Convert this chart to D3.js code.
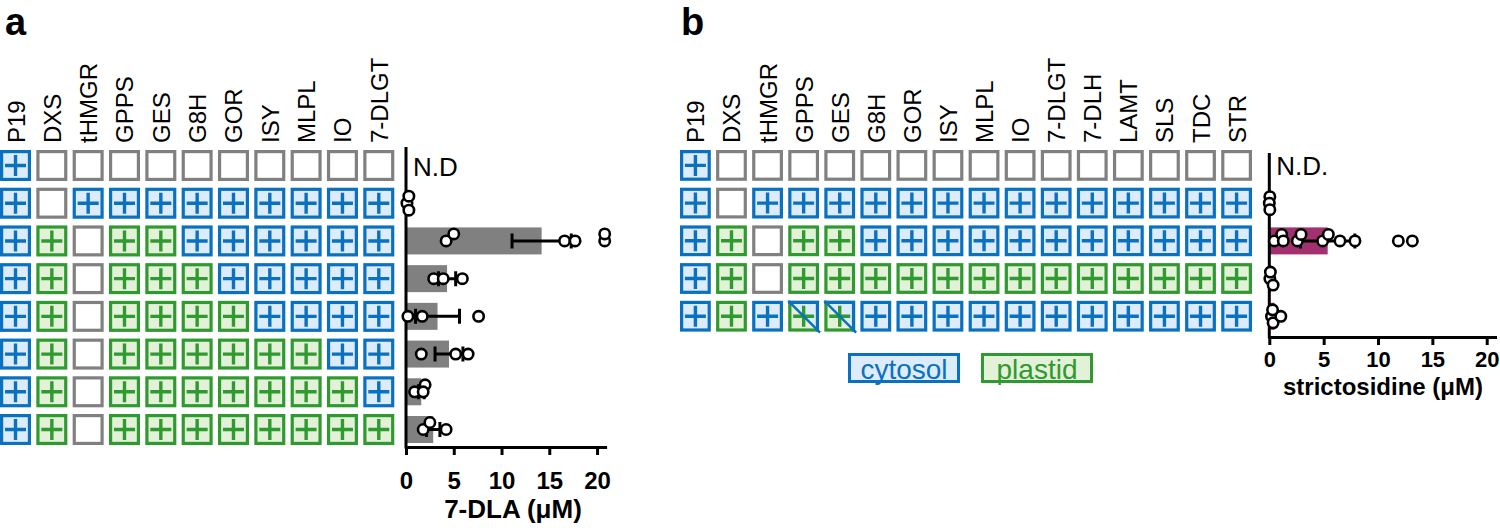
<!DOCTYPE html>
<html><head><meta charset="utf-8">
<script src="https://cdn.jsdelivr.net/npm/d3@7"></script>
<style>
body{margin:0;background:#fff}
svg{display:block}
text{font-family:"Liberation Sans",Arial,Helvetica,sans-serif}
</style>
</head><body>
<svg id="chart" width="1500" height="528"></svg>
<script>
// ---------- DATA ----------
const genesA = ["P19","DXS","tHMGR","GPPS","GES","G8H","GOR","ISY","MLPL","IO","7-DLGT"];
// c = cytosol, p = plastid, n = not present
const matrixA = [
  ["c","n","n","n","n","n","n","n","n","n","n"],
  ["c","n","c","c","c","c","c","c","c","c","c"],
  ["c","p","n","p","p","c","c","c","c","c","c"],
  ["c","p","n","p","p","p","c","c","c","c","c"],
  ["c","p","n","p","p","p","p","c","c","c","c"],
  ["c","p","n","p","p","p","p","p","p","c","c"],
  ["c","p","n","p","p","p","p","p","p","p","c"],
  ["c","p","n","p","p","p","p","p","p","p","p"]
];
const pointsA = [
  [],
  [0.1, 0.3, 0.3],
  [4.2, 5.0, 16.6, 17.7, 20.8, 20.8],
  [2.9, 3.9, 5.9],
  [0.2, 1.7, 7.6],
  [1.6, 5.2, 6.5],
  [0.9, 2.0, 1.8],
  [1.8, 2.5, 4.2]
];
const meansA = [null, 0.2, 14.2, 4.3, 3.3, 4.5, 1.6, 2.85];
const errA   = [null, 0, 3.1, 0.9, 2.3, 1.46, 0.3, 0.7];
const ndA = [true, false, false, false, false, false, false, false];

const genesB = ["P19","DXS","tHMGR","GPPS","GES","G8H","GOR","ISY","MLPL","IO","7-DLGT","7-DLH","LAMT","SLS","TDC","STR"];
// x = split cytosol/plastid (crossed)
const matrixB = [
  ["c","n","n","n","n","n","n","n","n","n","n","n","n","n","n","n"],
  ["c","n","c","c","c","c","c","c","c","c","c","c","c","c","c","c"],
  ["c","p","n","p","p","c","c","c","c","c","c","c","c","c","c","c"],
  ["c","p","n","p","p","p","p","p","p","p","p","p","p","p","p","p"],
  ["c","p","c","x","x","c","c","c","c","c","c","c","c","c","c","c"]
];
const pointsB = [
  [],
  [0.05, 0.0, 0.05],
  [0.46, 1.14, 1.29, 2.58, 2.92, 4.91, 5.43, 6.5, 7.88, 11.87, 13.16],
  [0.05, 0.35, 0.1],
  [0.2, 0.35, 1.06, 0.3]
];
const meansB = [null, 0.03, 5.37, 0.17, 0.48];
const errB   = [null, 0, 2.5, 0, 0];
const ndB = [true, false, false, false, false];

const xTicks = [0, 5, 10, 15, 20];
const legendItems = [{label:"cytosol", type:"c"}, {label:"plastid", type:"p"}];

// ---------- STYLE ----------
const COL = {
  c: {stroke:"#0a70c0", fill:"#ddecfb"},
  p: {stroke:"#2f9a2f", fill:"#e3f1d8"},
  n: {stroke:"#808080", fill:"#ffffff"}
};
const svg = d3.select("#chart");

function drawBox(g, x, y, s, type) {
  const sw = 3.2;
  if (type === "x") {
    g.append("rect").attr("x", x+sw/2).attr("y", y+sw/2).attr("width", s-sw).attr("height", s-sw)
      .attr("fill", COL.p.fill).attr("stroke", COL.p.stroke).attr("stroke-width", sw);
    g.append("path").attr("d", `M${x+sw/2},${y+sw/2}L${x+s-sw/2},${y+sw/2}L${x+s-sw/2},${y+s-sw/2}Z`)
      .attr("fill", COL.c.fill);
    g.append("path").attr("d", `M${x},${y+sw/2}L${x+s-sw/2},${y+sw/2}L${x+s-sw/2},${y+s}`)
      .attr("fill", "none").attr("stroke", COL.c.stroke).attr("stroke-width", sw);
    drawPlus(g, x, y, s, COL.p.stroke);
    g.append("line").attr("x1", x).attr("y1", y).attr("x2", x+s+1).attr("y2", y+s+1)
      .attr("stroke", COL.c.stroke).attr("stroke-width", 2.4);
    return;
  }
  const c = COL[type];
  g.append("rect").attr("x", x+sw/2).attr("y", y+sw/2).attr("width", s-sw).attr("height", s-sw)
    .attr("fill", c.fill).attr("stroke", c.stroke).attr("stroke-width", sw);
  if (type !== "n") drawPlus(g, x, y, s, c.stroke);
}
function drawPlus(g, x, y, s, color) {
  const cx = x + s/2, cy = y + s/2, h = 10.5;
  g.append("path").attr("d", `M${cx-h},${cy}H${cx+h}M${cx},${cy-h}V${cy+h}`)
    .attr("stroke", color).attr("stroke-width", 3.4).attr("fill", "none");
}

function jitterOffsets(vals, xs, spacing, thr) {
  const order = vals.map((v, i) => i).sort((a, b) => vals[a] - vals[b]);
  const slots = [0, -1, 1, -2, 2, -3, 3];
  const placed = [], res = [];
  order.forEach(i => {
    const px = xs(vals[i]);
    for (const s of slots) {
      if (!placed.some(p => p.s === s && Math.abs(p.x - px) < thr)) {
        placed.push({x: px, s}); res[i] = s * spacing; break;
      }
    }
  });
  return res;
}

function drawPanel(cfg) {
  const g = svg.append("g");
  const cols = d3.scaleBand().domain(cfg.genes).range(cfg.colRange).paddingInner(0.146).paddingOuter(0);
  const rows = d3.scaleBand().domain(d3.range(cfg.matrix.length)).range(cfg.rowRange).paddingInner(0.178).paddingOuter(0);
  const s = cols.bandwidth();

  g.selectAll("text.gene").data(cfg.genes).join("text")
    .attr("class", "gene")
    .attr("transform", d => `translate(${cols(d) + s/2 + 9},${cfg.rowRange[0] - 7}) rotate(-90)`)
    .attr("font-size", 24).attr("fill", "#000").text(d => d);

  cfg.matrix.forEach((row, ri) => {
    row.forEach((t, ci) => drawBox(g, cols(cfg.genes[ci]), rows(ri), s, t));
  });

  const x = d3.scaleLinear().domain([0, cfg.xMax]).range(cfg.xRange);
  const axisY = cfg.axisY;
  const barH = 27;
  const rc = i => rows(i) + rows.bandwidth()/2;

  g.selectAll("rect.bar").data(cfg.means.map((m, i) => ({m, i})).filter(d => d.m != null)).join("rect")
    .attr("class", "bar")
    .attr("x", x(0)).attr("y", d => rc(d.i) - barH/2)
    .attr("width", d => x(d.m) - x(0)).attr("height", barH)
    .attr("fill", cfg.barColor);

  const eb = cfg.means.map((m, i) => ({m, e: cfg.err[i], i})).filter(d => d.m != null && d.e > 0);
  eb.forEach(d => {
    const y0 = rc(d.i);
    g.append("path")
      .attr("d", `M${x(d.m - d.e)},${y0}H${x(d.m + d.e)}M${x(d.m - d.e)},${y0-7.5}V${y0+7.5}M${x(d.m + d.e)},${y0-7.5}V${y0+7.5}`)
      .attr("stroke", "#000").attr("stroke-width", 3).attr("fill", "none");
  });

  const xAxis = d3.axisBottom(x).tickValues(xTicks).tickSize(8).tickSizeOuter(0).tickPadding(cfg.tickPad);
  const ax = g.append("g").attr("transform", `translate(0,${axisY})`).call(xAxis);
  ax.select(".domain").attr("stroke-width", 3).attr("stroke", "#000");
  ax.selectAll(".tick line").attr("stroke-width", 3).attr("stroke", "#000");
  ax.selectAll(".tick text").attr("font-size", cfg.tickFont).attr("font-weight", "bold").attr("fill", "#000")
    .attr("font-family", "'Liberation Sans',Arial,sans-serif");
  g.append("line").attr("x1", x(0)).attr("x2", x(0)).attr("y1", cfg.axisTop).attr("y2", axisY + 1.5)
    .attr("stroke", "#000").attr("stroke-width", 3);

  cfg.points.forEach((pts, i) => {
    const offs = jitterOffsets(pts, x, cfg.jit, 8.5);
    g.selectAll(null).data(pts).join("circle")
      .attr("cx", d => x(d)).attr("cy", (d, k) => rc(i) + offs[k])
      .attr("r", 5.2).attr("fill", "#fff").attr("stroke", "#000").attr("stroke-width", 2.6);
  });

  cfg.nd.forEach((nd, i) => {
    if (nd) g.append("text").attr("x", x(0) + 7).attr("y", rc(i) + 10)
      .attr("font-size", 26).text(cfg.ndText);
  });

  g.append("text").attr("x", cfg.titleX).attr("y", cfg.titleY).attr("text-anchor", "middle")
    .attr("font-size", cfg.titleFont).attr("font-weight", "bold").text(cfg.title);

  g.append("text").attr("x", cfg.letterX).attr("y", 35).attr("font-size", 38).attr("font-weight", "bold").text(cfg.letter);
  return {cols, rows};
}

drawPanel({
  genes: genesA, matrix: matrixA, points: pointsA, means: meansA, err: errA, nd: ndA,
  colRange: [0, 394.3], rowRange: [150, 445],
  xMax: 21, xRange: [406, 606.6], axisY: 447, axisTop: 147, tickPad: 17, tickFont: 24,
  barColor: "#808080", jit: 7, ndText: "N.D",
  title: "7-DLA (μM)", titleX: 513, titleY: 518, titleFont: 26, letter: "a", letterX: 5
});

drawPanel({
  genes: genesB, matrix: matrixB, points: pointsB, means: meansB, err: errB, nd: ndB,
  colRange: [680, 1252], rowRange: [150, 331.8],
  xMax: 20.9, xRange: [1269.3, 1496.5], axisY: 337, axisTop: 153, tickPad: 6, tickFont: 22,
  barColor: "#a3316f", jit: 6.5, ndText: "N.D.",
  title: "strictosidine (μM)", titleX: 1383, titleY: 395, titleFont: 24, letter: "b", letterX: 681
});

// legend
const legX = [848, 981];
const lg = svg.append("g");
legendItems.forEach((d, i) => {
  const c = COL[d.type];
  lg.append("rect").attr("x", legX[i] + 1.5).attr("y", 354.5).attr("width", 109).attr("height", 27)
    .attr("fill", c.fill).attr("stroke", c.stroke).attr("stroke-width", 3);
  lg.append("text").attr("x", legX[i] + 56).attr("y", 379).attr("text-anchor", "middle")
    .attr("font-size", 28).attr("fill", c.stroke).text(d.label);
});
</script>
</body></html>
